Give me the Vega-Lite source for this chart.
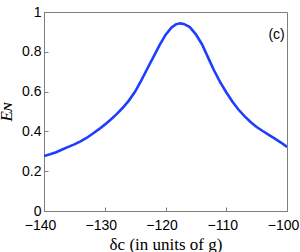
{
  "$schema": "https://vega.github.io/schema/vega-lite/v6.json",
  "autosize": "none",
  "width": 243,
  "height": 199,
  "padding": {"left": 44, "top": 12, "right": 13, "bottom": 41},
  "background": "white",
  "title": {"text": "(c)", "anchor": "end", "orient": "top", "offset": -37, "dx": -14, "font": "Liberation Sans", "fontSize": 14, "fontWeight": "normal", "color": "black"},
  "config": {
    "view": {"stroke": "#7f7f7f", "strokeWidth": 1},
    "axis": {
      "domainColor": "#7f7f7f",
      "domainWidth": 1,
      "tickColor": "#7f7f7f",
      "tickSize": -4,
      "grid": false,
      "labelOverlap": false,
      "labelFont": "Liberation Sans",
      "labelFontSize": 14,
      "labelColor": "black",
      "titleFont": "Liberation Serif",
      "titleFontSize": 17,
      "titleFontWeight": "normal",
      "titleColor": "black"
    }
  },
  "data": {
    "values": [
      {"d": -140, "e": 0.276},
      {"d": -139, "e": 0.285},
      {"d": -138, "e": 0.295},
      {"d": -137, "e": 0.309},
      {"d": -136, "e": 0.322},
      {"d": -135, "e": 0.335},
      {"d": -134, "e": 0.350},
      {"d": -133, "e": 0.367},
      {"d": -132, "e": 0.388},
      {"d": -131, "e": 0.410},
      {"d": -130, "e": 0.434},
      {"d": -129, "e": 0.460},
      {"d": -128, "e": 0.488},
      {"d": -127, "e": 0.520},
      {"d": -126, "e": 0.556},
      {"d": -125, "e": 0.600},
      {"d": -124, "e": 0.655},
      {"d": -123, "e": 0.715},
      {"d": -122, "e": 0.773},
      {"d": -121, "e": 0.832},
      {"d": -120, "e": 0.885},
      {"d": -119, "e": 0.922},
      {"d": -118.3, "e": 0.938},
      {"d": -117.6, "e": 0.943},
      {"d": -117, "e": 0.940},
      {"d": -116, "e": 0.924},
      {"d": -115, "e": 0.888},
      {"d": -114, "e": 0.838},
      {"d": -113, "e": 0.772},
      {"d": -112, "e": 0.706},
      {"d": -111, "e": 0.648},
      {"d": -110, "e": 0.597},
      {"d": -109, "e": 0.550},
      {"d": -108, "e": 0.510},
      {"d": -107, "e": 0.477},
      {"d": -106, "e": 0.447},
      {"d": -105, "e": 0.422},
      {"d": -104, "e": 0.402},
      {"d": -103, "e": 0.383},
      {"d": -102, "e": 0.364},
      {"d": -101, "e": 0.344},
      {"d": -100, "e": 0.322}
    ]
  },
  "mark": {"type": "line", "color": "#1f3dff", "strokeWidth": 2.6, "clip": true},
  "encoding": {
    "x": {
      "field": "d", "type": "quantitative",
      "scale": {"domain": [-140, -100], "nice": false, "zero": false},
      "axis": {"values": [-140, -130, -120, -110, -100], "format": "d", "labelPadding": 11, "labelOffset": -4, "labelOverlap": false, "title": "δc (in units of g)", "titlePadding": 4, "labelFlush": false}
    },
    "y": {
      "field": "e", "type": "quantitative",
      "scale": {"domain": [0, 1], "nice": false},
      "axis": {"values": [0, 0.2, 0.4, 0.6, 0.8, 1], "format": "~g", "labelPadding": 7, "labelOverlap": false, "labelBound": false, "title": "Eɴ", "titleFontStyle": "italic", "titlePadding": 6, "labelFlush": false}
    }
  }
}
